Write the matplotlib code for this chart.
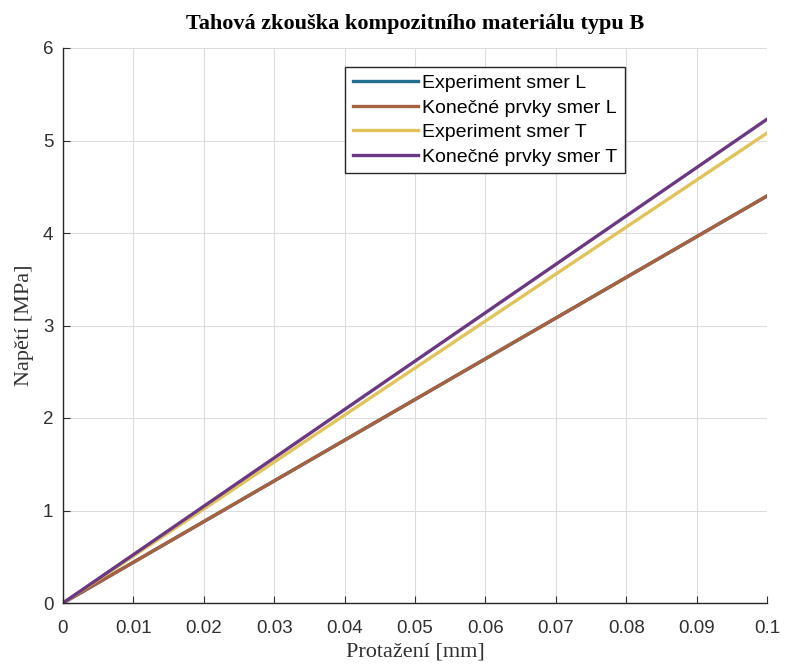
import matplotlib.pyplot as plt

# elongation [mm] and stress [MPa] for each series
x = [0.0, 0.1]
exp_L = [0.0, 4.40]
fem_L = [0.0, 4.40]
exp_T = [0.0, 5.08]
fem_T = [0.0, 5.23]

labels = ['Experiment smer L', 'Konečné prvky smer L',
          'Experiment smer T', 'Konečné prvky smer T']
colors = ['#236d8f', '#a8613f', '#e2c35a', '#6b3983']
xticklabels = ['0', '0.01', '0.02', '0.03', '0.04', '0.05',
               '0.06', '0.07', '0.08', '0.09', '0.1']

fig = plt.figure(figsize=(7.86, 6.70), dpi=100)
ax = fig.add_axes([63/786, 1 - 603/670, 704/786, 555/670])

for ys, lab, c in zip([exp_L, fem_L, exp_T, fem_T], labels, colors):
    ax.plot(x, ys, color=c, lw=2.4, label=lab)

ax.set_xlim(0, 0.1)
ax.set_ylim(0, 6)
ax.set_xticks([i / 100 for i in range(11)])
ax.set_xticklabels(xticklabels)
ax.set_yticks(range(7))
ax.grid(True, color='#dcdcdc', lw=0.8)
ax.set_axisbelow(True)
ax.tick_params(direction='in', length=5, labelsize=13.5, colors='#303030')
ax.tick_params(axis='x', pad=12)
ax.tick_params(axis='y', pad=7)
for lbl in ax.get_xticklabels() + ax.get_yticklabels():
    lbl.set_family('Liberation Sans')
for s in ['top', 'right']:
    ax.spines[s].set_visible(False)
for s in ['left', 'bottom']:
    ax.spines[s].set_color('#262626')
    ax.spines[s].set_linewidth(1.0)

serif = ['Liberation Serif', 'DejaVu Serif']
ax.set_title('Tahová zkouška kompozitního materiálu typu B', family=serif,
             fontsize=16, fontweight='bold', pad=14)
ax.set_xlabel('Protažení [mm]', family=serif, fontsize=16, labelpad=4,
              color='#303030')
ax.set_ylabel('Napětí [MPa]', family=serif, fontsize=16, labelpad=6,
              color='#303030')

leg = ax.legend(loc='upper left', bbox_to_anchor=(0.4006, 0.966),
                handlelength=3.35, handletextpad=0.2, borderpad=0.4,
                labelspacing=0.35, borderaxespad=0, fancybox=False,
                framealpha=1, edgecolor='#262626',
                prop={'family': 'Liberation Sans', 'size': 14})
leg.get_frame().set_linewidth(1.0)

fig.savefig('out.png', dpi=100)
